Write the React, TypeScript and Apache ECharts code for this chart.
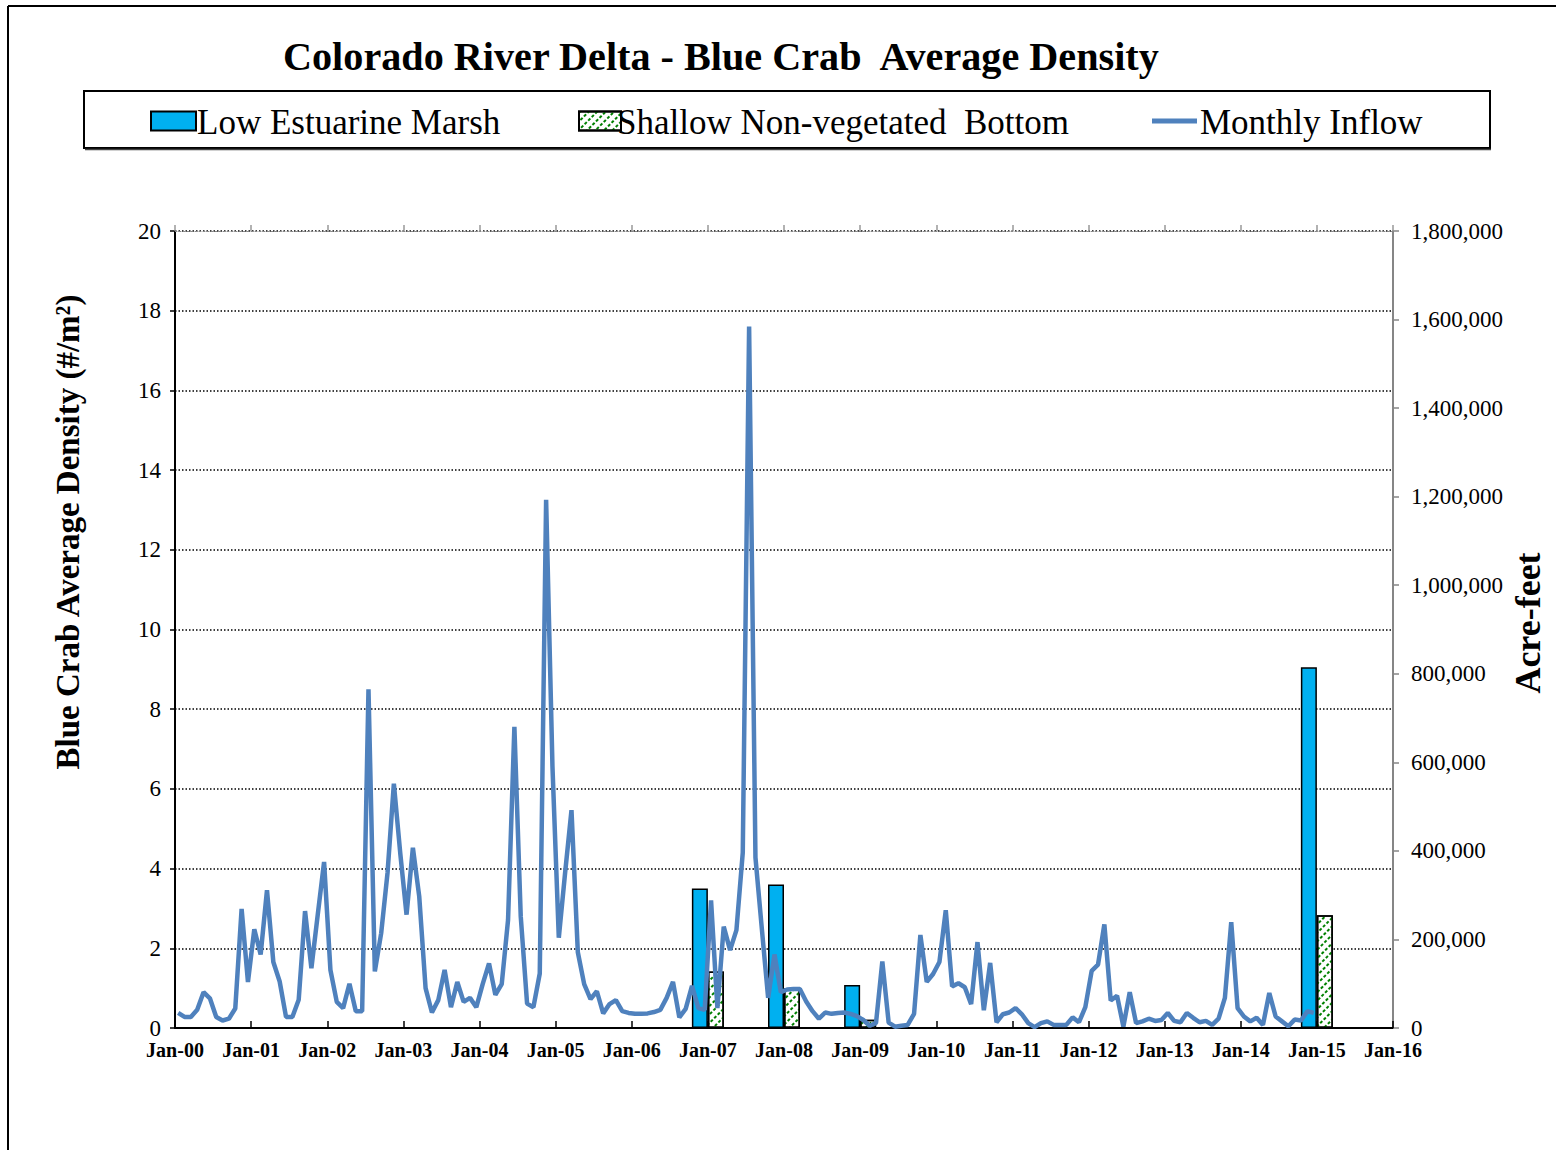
import React, { useEffect, useRef } from "react";
import * as echarts from "echarts";

const SERIF = "Liberation Serif, Times New Roman, serif";

const TITLE = "Colorado River Delta - Blue Crab  Average Density";
const LEFT_TITLE = "Blue Crab Average Density (#/m²)";
const RIGHT_TITLE = "Acre-feet";
const SERIES_NAMES = ["Low Estuarine Marsh", "Shallow Non-vegetated  Bottom", "Monthly Inflow"];

// x tick labels (one per January)
const YEAR_LABELS = [
  "Jan-00", "Jan-01", "Jan-02", "Jan-03", "Jan-04", "Jan-05", "Jan-06", "Jan-07", "Jan-08",
  "Jan-09", "Jan-10", "Jan-11", "Jan-12", "Jan-13", "Jan-14", "Jan-15", "Jan-16",
];

// Blue crab sampling (density #/m2)
const SAMPLE_DATES = ["Jan-07", "Jan-08", "Jan-09", "Jan-15"];
const LOW_ESTUARINE_MARSH = [3.5, 3.6, 1.08, 9.05];
const SHALLOW_NONVEG_BOTTOM = [1.42, 0.99, 0.21, 2.83];

// Monthly inflow (acre-feet), Jan..Dec of each year
const INFLOW_2000 = [34000, 25000, 25000, 41000, 81000, 67000, 25000, 17000, 21000, 44000, 269000, 104000];
const INFLOW_2001 = [223000, 166000, 311000, 149000, 105000, 25000, 25000, 64000, 264000, 135000, 256000, 375000];
const INFLOW_2002 = [131000, 59000, 45000, 100000, 38000, 38000, 765000, 128000, 214000, 350000, 552000, 396000];
const INFLOW_2003 = [256000, 407000, 297000, 90000, 35000, 63000, 131000, 47000, 104000, 59000, 68000, 47000];
const INFLOW_2004 = [99000, 146000, 75000, 99000, 244000, 680000, 252000, 55000, 47000, 123000, 1193000, 591000];
const INFLOW_2005 = [204000, 351000, 492000, 171000, 99000, 65000, 83000, 33000, 54000, 63000, 38000, 34000];
const INFLOW_2006 = [32000, 32000, 33000, 36000, 41000, 68000, 104000, 24000, 43000, 95000, 45000, 41000];
const INFLOW_2007 = [288000, 45000, 229000, 176000, 221000, 396000, 1584000, 385000, 225000, 68000, 166000, 81000];
const INFLOW_2008 = [87000, 88000, 88000, 60000, 38000, 21000, 35000, 32000, 34000, 35000, 32000, 27000];
const INFLOW_2009 = [18000, 5000, 11000, 150000, 12000, 3000, 5000, 7000, 32000, 210000, 104000, 122000];
const INFLOW_2010 = [149000, 266000, 94000, 101000, 92000, 54000, 194000, 40000, 147000, 13000, 31000, 35000];
const INFLOW_2011 = [45000, 31000, 11000, 2000, 11000, 15000, 7000, 7000, 7000, 24000, 13000, 47000];
const INFLOW_2012 = [129000, 143000, 234000, 62000, 73000, 3000, 81000, 11000, 15000, 21000, 16000, 18000];
const INFLOW_2013 = [34000, 16000, 13000, 34000, 23000, 13000, 16000, 7000, 21000, 68000, 239000, 45000];
const INFLOW_2014 = [26000, 15000, 23000, 7000, 79000, 26000, 15000, 4000, 19000, 17000, 38000, 34000];

const INFLOW = [
  ...INFLOW_2000, ...INFLOW_2001, ...INFLOW_2002, ...INFLOW_2003, ...INFLOW_2004,
  ...INFLOW_2005, ...INFLOW_2006, ...INFLOW_2007, ...INFLOW_2008, ...INFLOW_2009,
  ...INFLOW_2010, ...INFLOW_2011, ...INFLOW_2012, ...INFLOW_2013, ...INFLOW_2014,
];

const monthIndexOf = (label: string) => YEAR_LABELS.indexOf(label) * 12;

const legendText = { fontFamily: SERIF, fontSize: 34, color: "#000" };
const blank = () => " ";

export default function App() {
  const ref = useRef<HTMLDivElement>(null);

  useEffect(() => {
    if (!ref.current) return;
    const chart = echarts.init(ref.current, undefined, { renderer: "svg" });

    const lemData = SAMPLE_DATES.map((d, i) => [monthIndexOf(d), LOW_ESTUARINE_MARSH[i]]);
    const snbData = SAMPLE_DATES.map((d, i) => [monthIndexOf(d), SHALLOW_NONVEG_BOTTOM[i]]);
    const inflowData = INFLOW.map((v, i) => [i + 0.5, v]);

    const legendLabel = (x: number, name: string) => ({
      type: "text",
      x,
      y: 122,
      silent: true,
      style: {
        text: name,
        font: `35px ${SERIF}`,
        fill: "#000",
        align: "left",
        verticalAlign: "middle",
      },
    });

    const legendBase = {
      top: 104,
      padding: 0,
      icon: "rect",
      itemHeight: 19,
      textStyle: legendText,
      formatter: blank,
    };

    const option: any = {
      animation: false,
      backgroundColor: "#fff",
      textStyle: { fontFamily: SERIF },
      title: {
        text: TITLE,
        left: 283,
        top: 36,
        padding: 0,
        textStyle: { fontFamily: SERIF, fontWeight: "bold", fontSize: 40.2, color: "#000" },
      },
      legend: [
        { ...legendBase, left: 150, itemWidth: 45, data: [SERIES_NAMES[0]] },
        { ...legendBase, left: 578, itemWidth: 42, data: [SERIES_NAMES[1]] },
        { ...legendBase, left: 1152, itemWidth: 45, itemHeight: 5, data: [SERIES_NAMES[2]] },
      ],
      grid: { left: 175, top: 231, width: 1218, height: 797, containLabel: false },
      xAxis: [
        {
          type: "value",
          min: 0,
          max: 192,
          interval: 12,
          position: "bottom",
          axisLine: { show: true, onZero: false, lineStyle: { color: "#000", width: 2 } },
          axisTick: { show: true, inside: true, length: 7, lineStyle: { color: "#000", width: 1.5 } },
          axisLabel: {
            margin: 12,
            fontFamily: SERIF,
            fontWeight: "bold",
            fontSize: 20,
            color: "#000",
            formatter: (v: number) => YEAR_LABELS[Math.round(v / 12)] ?? "",
          },
          splitLine: { show: false },
        },
        {
          type: "value",
          min: 0,
          max: 192,
          interval: 12,
          position: "top",
          axisLine: { show: true, onZero: false, lineStyle: { color: "#888", width: 1, type: [2, 2] } },
          axisTick: { show: true, inside: false, length: 6, lineStyle: { color: "#999", width: 1.5 } },
          axisLabel: { show: false },
          splitLine: { show: false },
        },
      ],
      yAxis: [
        {
          type: "value",
          min: 0,
          max: 20,
          interval: 2,
          position: "left",
          axisLine: { show: true, onZero: false, lineStyle: { color: "#000", width: 2 } },
          axisTick: { show: true, inside: false, length: 5, lineStyle: { color: "#000", width: 1.5 } },
          axisLabel: { margin: 14, fontFamily: SERIF, fontSize: 23, color: "#000" },
          splitLine: { show: true, lineStyle: { color: "#000", width: 1.5, type: [1.5, 2] } },
        },
        {
          type: "value",
          min: 0,
          max: 1800000,
          interval: 200000,
          position: "right",
          axisLine: { show: true, onZero: false, lineStyle: { color: "#868686", width: 2 } },
          axisTick: { show: true, inside: false, length: 6, lineStyle: { color: "#868686", width: 1.5 } },
          axisLabel: {
            margin: 18,
            fontFamily: SERIF,
            fontSize: 23,
            color: "#000",
            formatter: (v: number) => v.toLocaleString("en-US"),
          },
          splitLine: { show: false },
        },
      ],
      series: [
        {
          name: SERIES_NAMES[0],
          type: "bar",
          xAxisIndex: 0,
          yAxisIndex: 0,
          barWidth: 16,
          barGap: "0%",
          data: lemData,
          itemStyle: { color: "#00B0F0", borderColor: "#000", borderWidth: 1.5 },
          z: 2,
        },
        {
          name: SERIES_NAMES[1],
          type: "bar",
          xAxisIndex: 0,
          yAxisIndex: 0,
          barWidth: 16,
          barGap: "0%",
          data: snbData,
          itemStyle: {
            color: "#fff",
            borderColor: "#000",
            borderWidth: 1.5,
            decal: {
              symbol: "rect",
              symbolSize: 1,
              color: "#008000",
              backgroundColor: "#fff",
              dashArrayX: [3, 1.5],
              dashArrayY: [1.6, 4],
              rotation: -Math.PI / 4,
            },
          },
          z: 2,
        },
        {
          name: SERIES_NAMES[2],
          type: "line",
          xAxisIndex: 0,
          yAxisIndex: 1,
          data: inflowData,
          showSymbol: false,
          symbol: "none",
          lineStyle: { color: "#4F81BD", width: 4.5 },
          itemStyle: { color: "#4F81BD" },
          z: 3,
        },
      ],
      graphic: [
        { type: "line", shape: { x1: 8, y1: 6, x2: 1556, y2: 6 }, style: { stroke: "#000", lineWidth: 2 }, silent: true },
        { type: "line", shape: { x1: 8, y1: 6, x2: 8, y2: 1150 }, style: { stroke: "#000", lineWidth: 2 }, silent: true },
        {
          type: "rect",
          shape: { x: 84, y: 91, width: 1406, height: 57 },
          style: { fill: "none", stroke: "#000", lineWidth: 2 },
          silent: true,
          z: -1,
        },
        {
          type: "line",
          shape: { x1: 85, y1: 149.5, x2: 1491, y2: 149.5 },
          style: { stroke: "#444", lineWidth: 1.5 },
          silent: true,
          z: -1,
        },
        legendLabel(197, SERIES_NAMES[0]),
        legendLabel(617, SERIES_NAMES[1]),
        legendLabel(1200, SERIES_NAMES[2]),
        {
          type: "text",
          x: 68,
          y: 532,
          rotation: Math.PI / 2,
          style: {
            text: LEFT_TITLE,
            font: `bold 33px ${SERIF}`,
            fill: "#000",
            align: "center",
            verticalAlign: "middle",
          },
        },
        {
          type: "text",
          x: 1528,
          y: 623,
          rotation: Math.PI / 2,
          style: {
            text: RIGHT_TITLE,
            font: `bold 36px ${SERIF}`,
            fill: "#000",
            align: "center",
            verticalAlign: "middle",
          },
        },
      ],
    };

    chart.setOption(option);
    return () => chart.dispose();
  }, []);

  return (
    <div
      ref={ref}
      style={{ position: "absolute", left: 0, top: 0, width: 1556, height: 1150, background: "#fff" }}
    />
  );
}
